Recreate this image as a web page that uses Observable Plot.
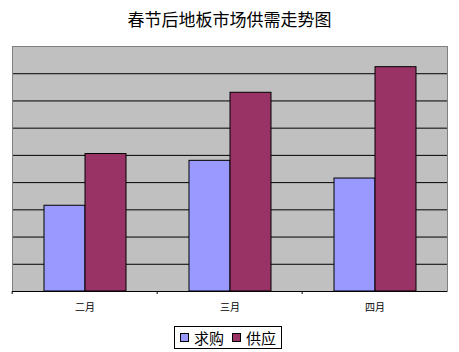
<!DOCTYPE html>
<html><head><meta charset="utf-8">
<script src="https://cdn.jsdelivr.net/npm/d3@7"></script>
<script src="https://cdn.jsdelivr.net/npm/@observablehq/plot@0.6"></script>
<style>
body{margin:0;background:#fff;width:459px;height:352px;position:relative;overflow:hidden;font-family:"Noto Sans CJK SC",sans-serif}
#title{position:absolute;left:0;top:0;width:459px;text-align:center;font-size:17px;line-height:38px;color:#000}
#chart{position:absolute;left:0;top:30px}
#legend{position:absolute;left:174px;top:326px;height:21px;border:1px solid #000;display:flex;align-items:center;padding:0 5px 0 5px;font-size:15px;color:#000;white-space:nowrap}
.sw{width:7px;height:7px;border:1px solid #000;display:inline-block;margin-right:5px}
.lab{margin-right:8px}
.lab:last-child{margin-right:0}
</style></head><body>
<div id="title"></div><div id="chart"></div><div id="legend"></div>
<script>
const title = "春节后地板市场供需走势图";
const categories = ["二月", "三月", "四月"];
const seriesNames = ["求购", "供应"];
const demand = [3.15, 4.8, 4.15];
const supply = [5.05, 7.3, 8.24];
const colors = ["#9999FF", "#993366"];
const yTicks = [0, 1, 2, 3, 4, 5, 6, 7, 8, 9];

document.getElementById("title").textContent = title;

const rows = [];
categories.forEach((c, i) => {
  rows.push({cat: c, series: seriesNames[0], value: demand[i]});
  rows.push({cat: c, series: seriesNames[1], value: supply[i]});
});

const W = 459, H = 290, mL = 11, mR = 11, mT = 16, mB = 29;
const facetW = (W - mL - mR) / categories.length;

const chart = Plot.plot({
  width: W, height: H, marginLeft: mL, marginRight: mR, marginTop: mT, marginBottom: mB,
  style: {fontFamily: '"Noto Sans CJK SC", sans-serif', fontSize: "10px", color: "#000", background: "transparent"},
  fx: {domain: categories, padding: 0, label: null},
  x: {domain: seriesNames, paddingInner: 0, paddingOuter: 0.74, axis: null},
  y: {domain: [yTicks[0], yTicks[yTicks.length - 1]], axis: null},
  color: {domain: seriesNames, range: colors},
  marks: [
    Plot.frame({fill: "#C0C0C0", stroke: null, shapeRendering: "crispEdges"}),
    Plot.ruleY(yTicks.slice(1, -1), {stroke: "#000", strokeWidth: 1}),
    Plot.barY(rows, {fx: "cat", x: "series", y: "value", fill: "series", stroke: "#000", strokeWidth: 1, insetLeft: 0, insetRight: 0}),
    Plot.frame({facet: "super", stroke: "#808080", fill: "none"}),
    Plot.ruleY([yTicks[0]], {stroke: "#000", strokeWidth: 1}),
    Plot.axisFx({anchor: "bottom", tickSize: 0, tickPadding: 12, label: null}),
    Plot.axisFx({anchor: "bottom", tickSize: 3, tickFormat: () => "", dx: -facetW / 2, label: null})
  ]
});
document.getElementById("chart").appendChild(chart);

const leg = document.getElementById("legend");
seriesNames.forEach((s, i) => {
  const sw = document.createElement("span");
  sw.className = "sw"; sw.style.background = colors[i];
  const t = document.createElement("span");
  t.className = "lab"; t.textContent = s;
  leg.appendChild(sw); leg.appendChild(t);
});
</script>
</body></html>
